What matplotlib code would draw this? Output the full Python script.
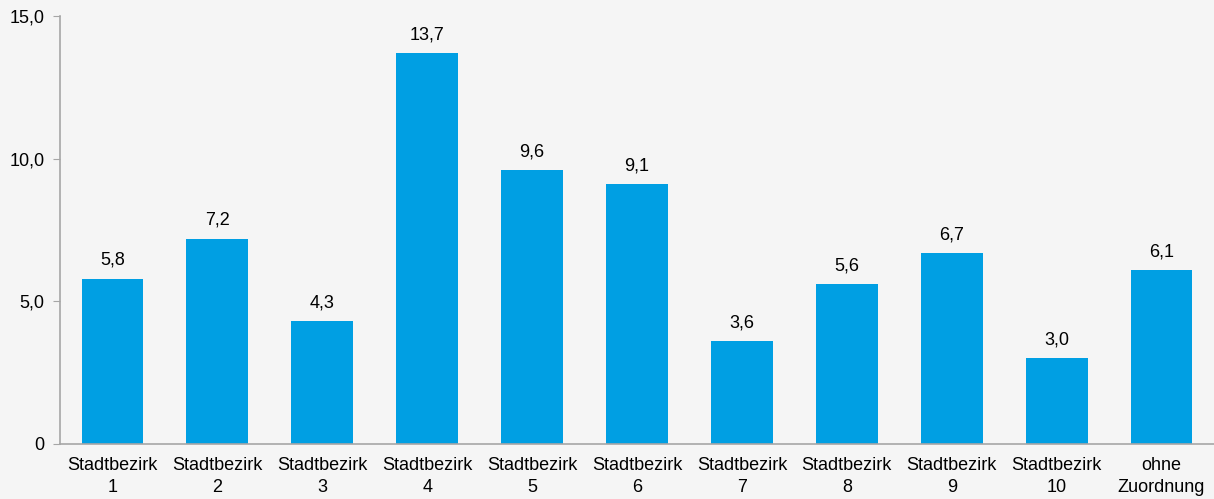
import matplotlib.pyplot as plt
from matplotlib.ticker import FixedLocator

plt.rcParams['font.family'] = ['Liberation Sans', 'DejaVu Sans']

# daten
kategorien = ['Stadtbezirk\n1', 'Stadtbezirk\n2', 'Stadtbezirk\n3', 'Stadtbezirk\n4',
              'Stadtbezirk\n5', 'Stadtbezirk\n6', 'Stadtbezirk\n7', 'Stadtbezirk\n8',
              'Stadtbezirk\n9', 'Stadtbezirk\n10', 'ohne\nZuordnung']
werte = [5.8, 7.2, 4.3, 13.7, 9.6, 9.1, 3.6, 5.6, 6.7, 3.0, 6.1]
y_ticks = [0, 5, 10, 15]
y_labels = ['0', '5,0', '10,0', '15,0']

bg = '#f5f5f5'
fs = 13
fig = plt.figure(figsize=(12.14, 4.99), dpi=100, facecolor=bg)
ax = fig.add_axes([60/1214, 55/499, 1 - 60/1214, 428/499], facecolor=bg)

x = range(len(werte))
bars = ax.bar(x, werte, width=0.59, color='#009fe3')

for b, v in zip(bars, werte):
    ax.annotate(('%.1f' % v).replace('.', ','), (b.get_x() + b.get_width()/2, v),
                xytext=(0, 7), textcoords='offset points', ha='center', va='bottom',
                fontsize=fs, color='#000000')

ax.set_xlim(-0.5, len(werte) - 0.5)
ax.set_ylim(0, 15)
ax.yaxis.set_major_locator(FixedLocator(y_ticks))
ax.set_yticklabels(y_labels)
ax.set_xticks(list(x))
ax.set_xticklabels(kategorien, linespacing=1.4)

for s in ['top', 'right']:
    ax.spines[s].set_visible(False)
for s in ['left', 'bottom']:
    ax.spines[s].set_color('#a6a6a6')
    ax.spines[s].set_linewidth(1.2)

ax.tick_params(axis='y', length=5, color='#a6a6a6', labelsize=fs, pad=6)
ax.tick_params(axis='x', length=0, labelsize=fs, pad=9)

fig.savefig('out.png', dpi=100, facecolor=bg)
